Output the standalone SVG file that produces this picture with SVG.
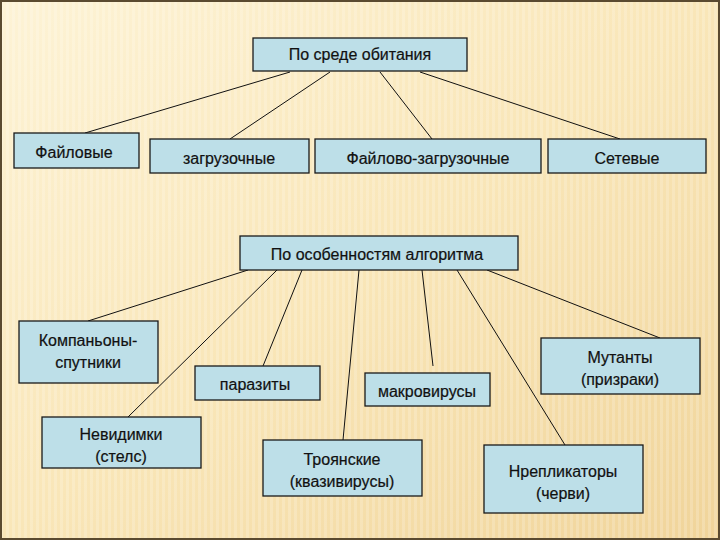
<svg xmlns="http://www.w3.org/2000/svg" width="720" height="540" viewBox="0 0 720 540">
<defs>
<linearGradient id="bg" x1="0" y1="0" x2="1" y2="1">
<stop offset="0" stop-color="#fdf3d6"/>
<stop offset="0.5" stop-color="#f9e6b8"/>
<stop offset="1" stop-color="#f0d49a"/>
</linearGradient>
<pattern id="st" width="6" height="6" patternUnits="userSpaceOnUse">
<rect width="3" height="6" fill="#ffffff" opacity="0.18"/>
</pattern>
<style>
.b{fill:#bddfe8;stroke:#1a1a1a;stroke-width:1.3}
.t{font-family:"Liberation Sans",Arial,sans-serif;font-size:16px;fill:#111;text-anchor:middle;stroke:#111;stroke-width:0.2}
.c line{stroke:#111;stroke-width:1}
</style>
</defs>
<rect width="720" height="540" fill="url(#bg)"/>
<rect width="720" height="540" fill="url(#st)"/>
<rect x="1" y="1" width="718" height="538" fill="none" stroke="#5a4a30" stroke-width="2"/>
<g class="c">
<line x1="290" y1="72" x2="85" y2="133"/>
<line x1="330" y1="72" x2="230" y2="139"/>
<line x1="380" y1="72" x2="432" y2="139"/>
<line x1="420" y1="72" x2="620" y2="139"/>
<line x1="248" y1="270" x2="88" y2="321"/>
<line x1="277" y1="270" x2="128" y2="417"/>
<line x1="302" y1="270" x2="263" y2="366"/>
<line x1="359" y1="270" x2="343" y2="440"/>
<line x1="422" y1="270" x2="433" y2="366"/>
<line x1="457" y1="270" x2="565" y2="445"/>
<line x1="487" y1="270" x2="660" y2="338"/>
</g>
<g id="n1"><rect class="b" x="253" y="38" width="214" height="33"/><text class="t" x="360" y="60">По среде обитания</text></g>
<g id="n2"><rect class="b" x="14" y="133" width="125" height="35"/><text class="t" x="74" y="158">Файловые</text></g>
<g id="n3"><rect class="b" x="150" y="139" width="159" height="34"/><text class="t" x="229" y="164">загрузочные</text></g>
<g id="n4"><rect class="b" x="315" y="139" width="226" height="34"/><text class="t" x="428" y="164">Файлово-загрузочные</text></g>
<g id="n5"><rect class="b" x="548" y="139" width="158" height="34"/><text class="t" x="627" y="164">Сетевые</text></g>
<g id="n6"><rect class="b" x="240" y="236" width="278" height="34"/><text class="t" x="377" y="260">По особенностям алгоритма</text></g>
<g id="n7"><rect class="b" x="19" y="321" width="139" height="62"/><text class="t" x="88" y="346">Компаньоны-</text><text class="t" x="88" y="368">спутники</text></g>
<g id="n8"><rect class="b" x="195" y="366" width="125" height="34"/><text class="t" x="255" y="390">паразиты</text></g>
<g id="n9"><rect class="b" x="365" y="373" width="125" height="33"/><text class="t" x="427" y="397">макровирусы</text></g>
<g id="n10"><rect class="b" x="541" y="338" width="159" height="56"/><text class="t" x="620" y="363">Мутанты</text><text class="t" x="620" y="385">(призраки)</text></g>
<g id="n11"><rect class="b" x="42" y="417" width="159" height="51"/><text class="t" x="121" y="440">Невидимки</text><text class="t" x="121" y="462">(стелс)</text></g>
<g id="n12"><rect class="b" x="263" y="440" width="159" height="56"/><text class="t" x="342" y="465">Троянские</text><text class="t" x="342" y="487">(квазивирусы)</text></g>
<g id="n13"><rect class="b" x="484" y="445" width="159" height="68"/><text class="t" x="563" y="477">Нрепликаторы</text><text class="t" x="563" y="499">(черви)</text></g>
</svg>
